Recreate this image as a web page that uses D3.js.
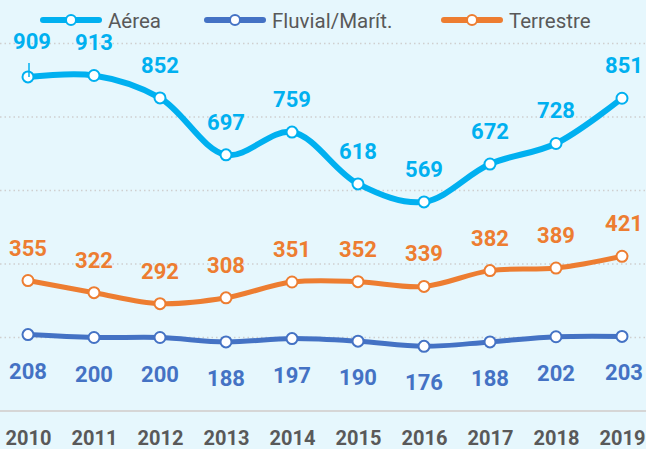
<!DOCTYPE html>
<html>
<head>
<meta charset="utf-8">
<title>Transporte</title>
<style>
  body { margin: 0; background: #e6f7fd; }
  svg { display: block; font-family: Roboto, "Noto Sans", sans-serif; }
</style>
</head>
<body>
<svg id="chart" width="646" height="449"></svg>

<script src="https://d3js.org/d3.v7.min.js"></script>
<script type="text/javascript">

const years = ['2010', '2011', '2012', '2013', '2014', '2015', '2016', '2017', '2018', '2019'];
const aerea = [909, 913, 852, 697, 759, 618, 569, 672, 728, 851];
const fluvial = [208, 200, 200, 188, 197, 190, 176, 188, 202, 203];
const terrestre = [355, 322, 292, 308, 351, 352, 339, 382, 389, 421];
const yTicks = [0, 200, 400, 600, 800, 1000];

const series = [
    { name: 'Aérea', values: aerea, color: '#00b0f0', width: 6, label: 'above' },
    { name: 'Fluvial/Marít.', values: fluvial, color: '#4472c4', width: 5, label: 'below' },
    { name: 'Terrestre', values: terrestre, color: '#ed7d31', width: 5, label: 'above' },
];

const svg = d3.select('#chart');

const x = d3.scalePoint()
    .domain(years)
    .range([28, 622]);

const y = d3.scaleLinear()
    .domain([0, 1000])
    .range([411, 43.5]);

svg.append('rect')
    .attr('width', 646)
    .attr('height', 449)
    .attr('fill', '#e6f7fd');

// gridlines
svg.append('g')
    .attr('class', 'grid')
    .selectAll('line')
    .data(yTicks.filter(d => d > 0))
    .join('line')
        .attr('x1', 0)
        .attr('x2', 646)
        .attr('y1', d => y(d))
        .attr('y2', d => y(d))
        .attr('stroke', '#cfcfcf')
        .attr('stroke-width', 1.5)
        .attr('stroke-dasharray', '1.5,3');

svg.append('line')
    .attr('x1', 0)
    .attr('x2', 646)
    .attr('y1', y(0))
    .attr('y2', y(0))
    .attr('stroke', '#d6d6d6')
    .attr('stroke-width', 2);

// x axis labels
svg.append('g')
    .attr('class', 'x-axis')
    .attr('transform', 'translate(0, 445)')
    .call(d3.axisBottom(x).tickSize(0).tickPadding(0))
    .call(g => g.select('.domain').remove())
    .call(g => g.selectAll('.tick text')
        .attr('dy', 0)
        .attr('fill', '#595959')
        .attr('font-size', 20)
        .attr('font-weight', 700)
        .attr('font-family', 'Roboto, sans-serif'));

const line = d3.line()
    .x((d, i) => x(years[i]))
    .y(d => y(d))
    .curve(d3.curveCatmullRom.alpha(0.5));

const seriesGroup = svg.append('g').attr('class', 'series');

for (const s of series) {
    const g = seriesGroup.append('g');

    g.append('path')
        .datum(s.values)
        .attr('d', line)
        .attr('fill', 'none')
        .attr('stroke', s.color)
        .attr('stroke-width', s.width)
        .attr('stroke-linejoin', 'round');

    g.selectAll('circle')
        .data(s.values)
        .join('circle')
            .attr('cx', (d, i) => x(years[i]))
            .attr('cy', d => y(d))
            .attr('r', 5.5)
            .attr('fill', '#fff')
            .attr('stroke', s.color)
            .attr('stroke-width', 2);

    g.selectAll('text')
        .data(s.values)
        .join('text')
            .attr('x', (d, i) => x(years[i]) + (i === years.length - 1 ? 2 : 0) + (i === 0 && s.name === 'Aérea' ? 4 : 0))
            .attr('y', (d, i) => {
                if (s.label === 'below') return y(d) + 44;
                return y(d) - (i === 0 && s.name === 'Aérea' ? 28 : 25);
            })
            .attr('text-anchor', 'middle')
            .attr('fill', s.color)
            .attr('font-size', 22)
            .attr('font-weight', 700)
            .text(d => d);
}

// leader line for the first Aérea label
svg.append('line')
    .attr('x1', x(years[0]) + 1)
    .attr('x2', x(years[0]) + 1)
    .attr('y1', y(aerea[0]) - 14)
    .attr('y2', y(aerea[0]))
    .attr('stroke', '#00b0f0')
    .attr('stroke-width', 1.5);

// legend
const legendX = [43, 207, 444];
const legend = svg.append('g').attr('class', 'legend');

series.forEach((s, i) => {
    const g = legend.append('g')
        .attr('transform', `translate(${legendX[i]}, 20)`);
    g.append('line')
        .attr('x1', 0)
        .attr('x2', 56)
        .attr('stroke', s.color)
        .attr('stroke-width', 6)
        .attr('stroke-linecap', 'round');
    g.append('circle')
        .attr('cx', 28)
        .attr('r', 5)
        .attr('fill', '#fff')
        .attr('stroke', s.color)
        .attr('stroke-width', 2);
    g.append('text')
        .attr('x', 65)
        .attr('y', 7.5)
        .attr('fill', '#595959')
        .attr('font-size', 20.5)
        .text(s.name);
});

</script>
</body>
</html>
